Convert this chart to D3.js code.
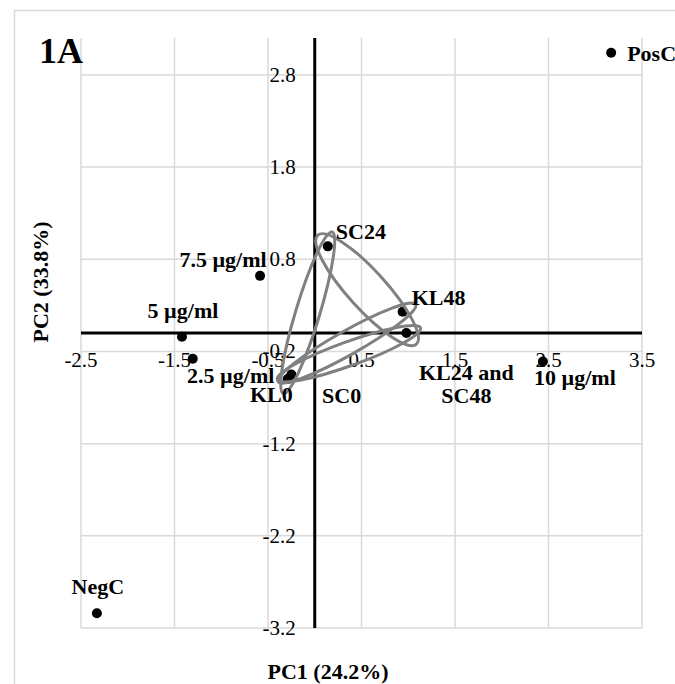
<!DOCTYPE html>
<html>
<head>
<meta charset="utf-8">
<script src="https://cdn.jsdelivr.net/npm/d3@7"></script>
<style>
  body { margin: 0; background: #fff; }
  text { font-family: "Liberation Serif", "Times New Roman", serif; }
</style>
</head>
<body>
<div id="chart"></div>
<script>
// PCA scores
const names = ["PosC", "NegC", "7.5 µg/ml", "5 µg/ml", "2.5 µg/ml", "KL0", "SC0", "SC24", "KL48", "KL24 and SC48", "10 µg/ml"];
const pc1 = [3.17, -2.33, -0.585, -1.42, -1.305, -0.25, -0.29, 0.14, 0.94, 0.98, 2.44];
const pc2 = [3.04, -3.04, 0.62, -0.04, -0.28, -0.45, -0.50, 0.94, 0.23, 0.0, -0.31];
const xTicks = [-2.5, -1.5, -0.5, 0.5, 1.5, 2.5, 3.5];
const yTicks = [-3.2, -2.2, -1.2, -0.2, 0.8, 1.8, 2.8];
// groups circled by the grey ellipses
const groups = [["SC0", "SC24"], ["SC24", "KL24 and SC48"], ["KL0", "KL24 and SC48"], ["KL0", "KL48"]];

const width = 675, height = 684;
const svg = d3.select("#chart").append("svg")
    .attr("width", width)
    .attr("height", height);

const x = d3.scaleLinear().domain([-2.5, 3.5]).range([81, 642]);
const y = d3.scaleLinear().domain([-3.2, 3.2]).range([628, 38]);
const fmt = d => d.toFixed(1); // plain hyphen minus like Excel

// outer chart frame
svg.append("rect")
    .attr("x", 14.5).attr("y", 10.5)
    .attr("width", 720).attr("height", 720)
    .attr("fill", "none")
    .attr("stroke", "#d9d9d9")
    .attr("stroke-width", 1.5);

// gridlines
svg.append("g").selectAll("line")
    .data(xTicks)
    .enter().append("line")
    .attr("x1", d => x(d)).attr("x2", d => x(d))
    .attr("y1", y(3.2)).attr("y2", y(-3.2))
    .attr("stroke", "#d9d9d9").attr("stroke-width", 1.5);
svg.append("g").selectAll("line")
    .data(yTicks)
    .enter().append("line")
    .attr("x1", x(-2.5)).attr("x2", x(3.5))
    .attr("y1", d => y(d)).attr("y2", d => y(d))
    .attr("stroke", "#d9d9d9").attr("stroke-width", 1.5);

// zero axes
svg.append("line")
    .attr("x1", x(0)).attr("x2", x(0))
    .attr("y1", y(3.2)).attr("y2", y(-3.2))
    .attr("stroke", "#000").attr("stroke-width", 3);
svg.append("line")
    .attr("x1", x(-2.5)).attr("x2", x(3.5))
    .attr("y1", y(0)).attr("y2", y(0))
    .attr("stroke", "#000").attr("stroke-width", 3);

// tick labels
svg.append("g").selectAll("text")
    .data(xTicks)
    .enter().append("text")
    .attr("x", d => x(d))
    .attr("y", y(0) + 34)
    .attr("text-anchor", "middle")
    .attr("font-size", 21)
    .text(fmt);
svg.append("g").selectAll("text")
    .data(yTicks)
    .enter().append("text")
    .attr("x", x(0) - 19)
    .attr("y", d => y(d) + 7)
    .attr("text-anchor", "end")
    .attr("font-size", 21)
    .text(fmt);

const pts = names.map((n, i) => ({ name: n, x: pc1[i], y: pc2[i] }));
const byName = new Map(pts.map(p => [p.name, p]));

// points
svg.append("g").selectAll("circle")
    .data(pts)
    .enter().append("circle")
    .attr("cx", d => x(d.x))
    .attr("cy", d => y(d.y))
    .attr("r", 5)
    .attr("fill", "#000");

// ellipses round each pair
const minorR = [12, 19, 12, 12];
svg.append("g").selectAll("ellipse")
    .data(groups)
    .enter().append("ellipse")
    .each(function (g, i) {
        const a = byName.get(g[0]), b = byName.get(g[1]);
        const x1 = x(a.x), y1 = y(a.y), x2 = x(b.x), y2 = y(b.y);
        const len = Math.hypot(x2 - x1, y2 - y1);
        const ang = Math.atan2(y2 - y1, x2 - x1) * 180 / Math.PI;
        d3.select(this)
            .attr("rx", len / 2 + 15)
            .attr("ry", minorR[i])
            .attr("transform", `translate(${(x1 + x2) / 2},${(y1 + y2) / 2}) rotate(${ang})`);
    })
    .attr("fill", "none")
    .attr("stroke", "#808080")
    .attr("stroke-width", 3);

// data labels: offsets from point, anchor
const labelPos = {
    "PosC": [16, 8, "start"],
    "NegC": [1, -19, "middle"],
    "7.5 µg/ml": [-37, -9, "middle"],
    "5 µg/ml": [1, -19, "middle"],
    "2.5 µg/ml": [38, 24, "middle"],
    "KL0": [-20, 28, "middle"],
    "SC0": [54, 24, "middle"],
    "SC24": [8, -7, "start"],
    "KL48": [9, -7, "start"],
    "KL24 and SC48": [60, 47, "middle"],
    "10 µg/ml": [32, 23, "middle"]
};
const lab = svg.append("g").selectAll("text")
    .data(pts)
    .enter().append("text")
    .attr("x", d => x(d.x) + labelPos[d.name][0])
    .attr("y", d => y(d.y) + labelPos[d.name][1])
    .attr("text-anchor", d => labelPos[d.name][2])
    .attr("font-size", 22)
    .attr("font-weight", "bold");
lab.each(function (d) {
    const t = d3.select(this);
    if (d.name === "KL24 and SC48") {
        t.append("tspan").attr("x", x(d.x) + labelPos[d.name][0]).text("KL24 and");
        t.append("tspan").attr("x", x(d.x) + labelPos[d.name][0]).attr("dy", 23).text("SC48");
    } else {
        t.text(d.name);
    }
});

// panel tag and axis titles
svg.append("text")
    .attr("x", 39).attr("y", 63)
    .attr("font-size", 36)
    .attr("font-weight", "bold")
    .text("1A");
svg.append("text")
    .attr("x", 328).attr("y", 679)
    .attr("text-anchor", "middle")
    .attr("font-size", 22)
    .attr("font-weight", "bold")
    .text("PC1 (24.2%)");
svg.append("text")
    .attr("transform", "translate(48,282) rotate(-90)")
    .attr("text-anchor", "middle")
    .attr("font-size", 22)
    .attr("font-weight", "bold")
    .text("PC2 (33.8%)");
</script>
</body>
</html>
